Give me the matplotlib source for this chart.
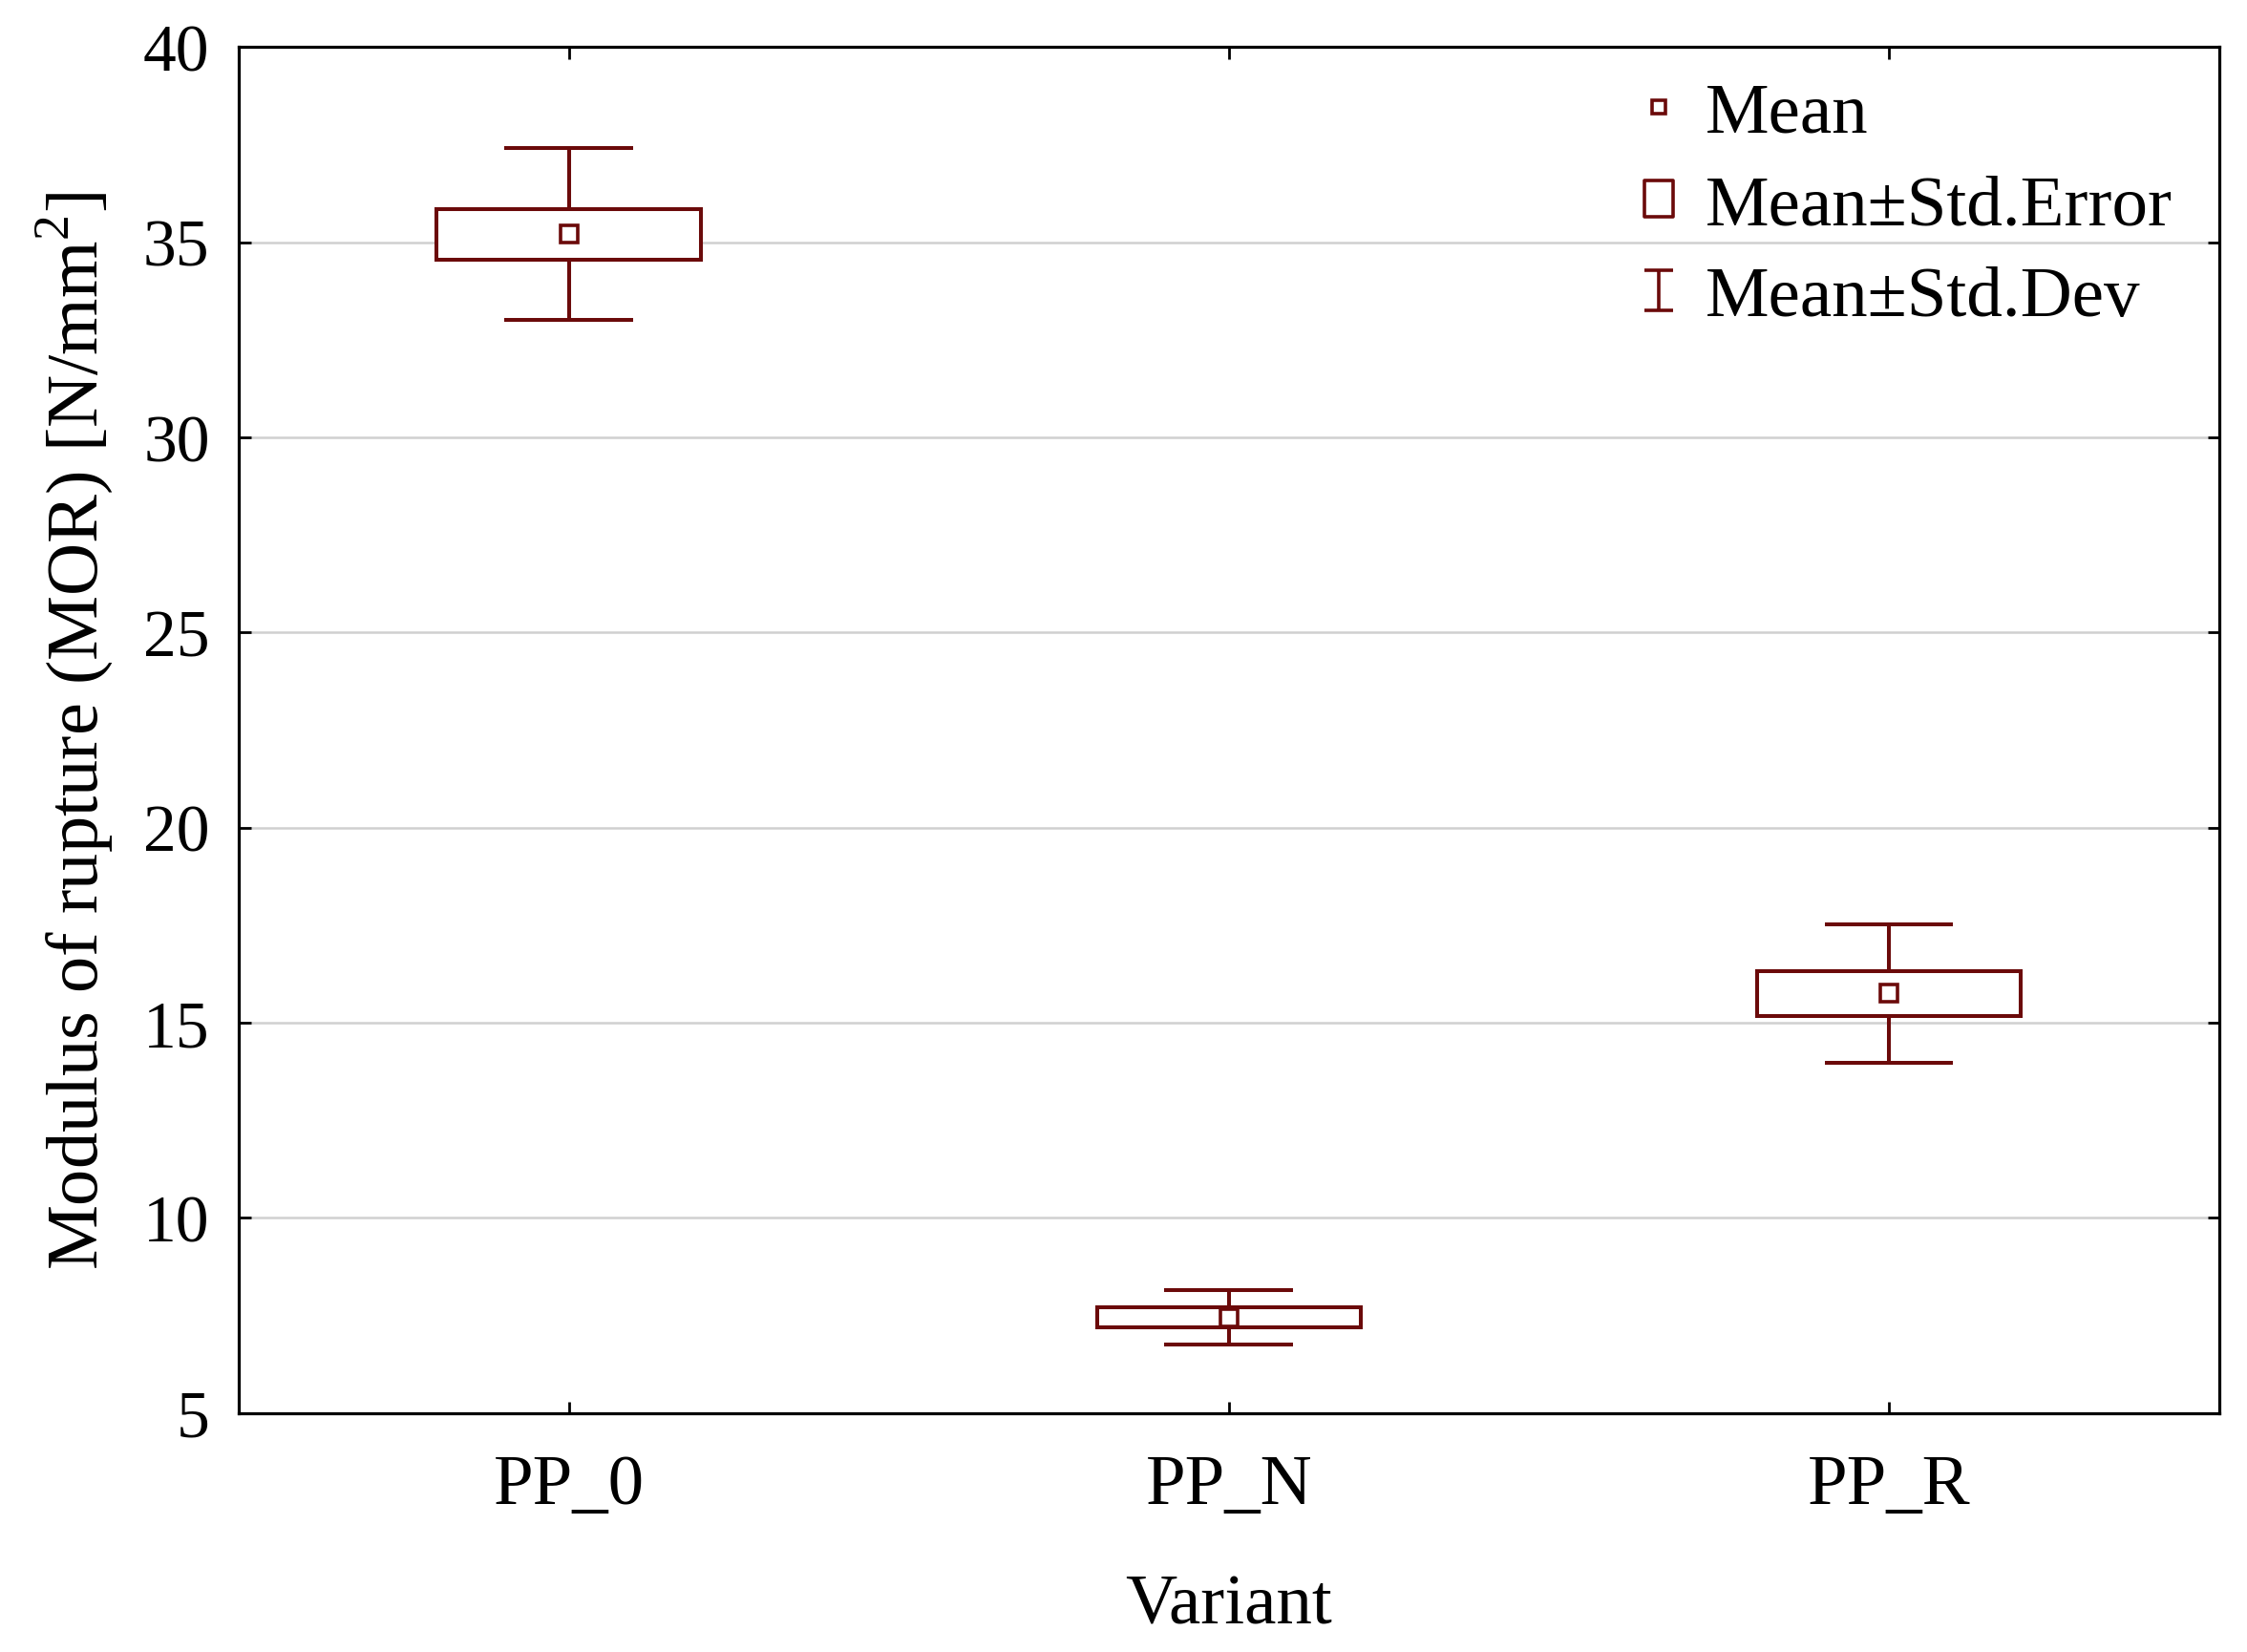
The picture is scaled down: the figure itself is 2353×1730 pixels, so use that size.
import matplotlib
matplotlib.use("Agg")
import matplotlib.pyplot as plt
import numpy as np
from matplotlib.lines import Line2D
from matplotlib.path import Path

# ---- data ----
variants = ["PP_0", "PP_N", "PP_R"]
means = [35.2, 7.45, 15.75]
std_err = [0.65, 0.26, 0.57]
std_dev = [2.2, 0.70, 1.77]
yticks = [5, 10, 15, 20, 25, 30, 35, 40]

# ---- style ----
RED = "#6B0A0A"
FONT = ["Liberation Serif", "DejaVu Serif"]
plt.rcParams["font.family"] = FONT
plt.rcParams["mathtext.fontset"] = "custom"
plt.rcParams["mathtext.rm"] = "Liberation Serif"

fig = plt.figure(figsize=(23.53, 17.31), dpi=100)
ax = fig.add_axes([0.1063, 0.1446, 0.9875 - 0.1063, 0.971 - 0.1446])

x = np.arange(len(variants))
m = np.array(means)
se = np.array(std_err)
sd = np.array(std_dev)

box_w = 0.40
cap_w = 0.195
lw = 2.9

# whiskers (from SE box edge to SD limit)
ax.vlines(x, m + se, m + sd, color=RED, lw=lw, zorder=3)
ax.vlines(x, m - sd, m - se, color=RED, lw=lw, zorder=3)
ax.hlines(m + sd, x - cap_w / 2, x + cap_w / 2, color=RED, lw=lw, zorder=3)
ax.hlines(m - sd, x - cap_w / 2, x + cap_w / 2, color=RED, lw=lw, zorder=3)

# SE boxes
ax.bar(x, 2 * se, bottom=m - se, width=box_w, facecolor="white",
       edgecolor=RED, linewidth=lw, zorder=4)

# means
ax.plot(x, m, linestyle="none", marker="s", markersize=13,
        markerfacecolor="white", markeredgecolor=RED, markeredgewidth=2.6,
        zorder=5)

ax.set_xlim(-0.5, 2.5)
ax.set_ylim(5, 40)
ax.set_yticks(yticks)
ax.set_xticks(x)
ax.set_xticklabels(variants)
ax.yaxis.grid(True, color="#d0d0d0", linewidth=1.8, zorder=0)
ax.set_axisbelow(True)

for s in ax.spines.values():
    s.set_linewidth(2.3)
    s.set_color("black")

ax.tick_params(axis="both", direction="in", length=9, width=2,
               top=True, right=True)
ax.tick_params(axis="y", labelsize=50, pad=22)
ax.tick_params(axis="x", labelsize=54, pad=31)

ax.set_xlabel("Variant", fontsize=54)
ax.xaxis.set_label_coords(0.5, -0.118)
ax.set_ylabel(r"Modulus of rupture (MOR) [N/mm$^2$]", fontsize=55)
ax.yaxis.label.set_va("center")
ax.yaxis.set_label_coords(-0.083, 0.5)

# legend with custom handles
se_path = Path([(-0.38, -0.5), (0.38, -0.5), (0.38, 0.5), (-0.38, 0.5), (-0.38, -0.5)],
               [Path.MOVETO, Path.LINETO, Path.LINETO, Path.LINETO, Path.CLOSEPOLY])
sd_path = Path([(-0.37, 0.5), (0.37, 0.5), (0, 0.5), (0, -0.5), (-0.37, -0.5), (0.37, -0.5)],
               [Path.MOVETO, Path.LINETO, Path.MOVETO, Path.LINETO, Path.MOVETO, Path.LINETO])
handles = [
    Line2D([], [], linestyle="none", marker="s", markersize=10,
           markerfacecolor="white", markeredgecolor=RED, markeredgewidth=2.6),
    Line2D([], [], linestyle="none", marker=se_path, markersize=28,
           markerfacecolor="white", markeredgecolor=RED, markeredgewidth=2.6),
    Line2D([], [], linestyle="none", marker=sd_path, markersize=30,
           markerfacecolor="none", markeredgecolor=RED, markeredgewidth=2.6),
]
labels = ["Mean", "Mean\u00b1Std.Error", "Mean\u00b1Std.Dev"]
ax.legend(handles, labels, loc="upper left", bbox_to_anchor=(0.688, 1.001),
          frameon=False, fontsize=54, handlelength=0.6, handletextpad=0.35,
          labelspacing=0.37, borderpad=0)

fig.savefig("out.png", dpi=100, facecolor="white")
